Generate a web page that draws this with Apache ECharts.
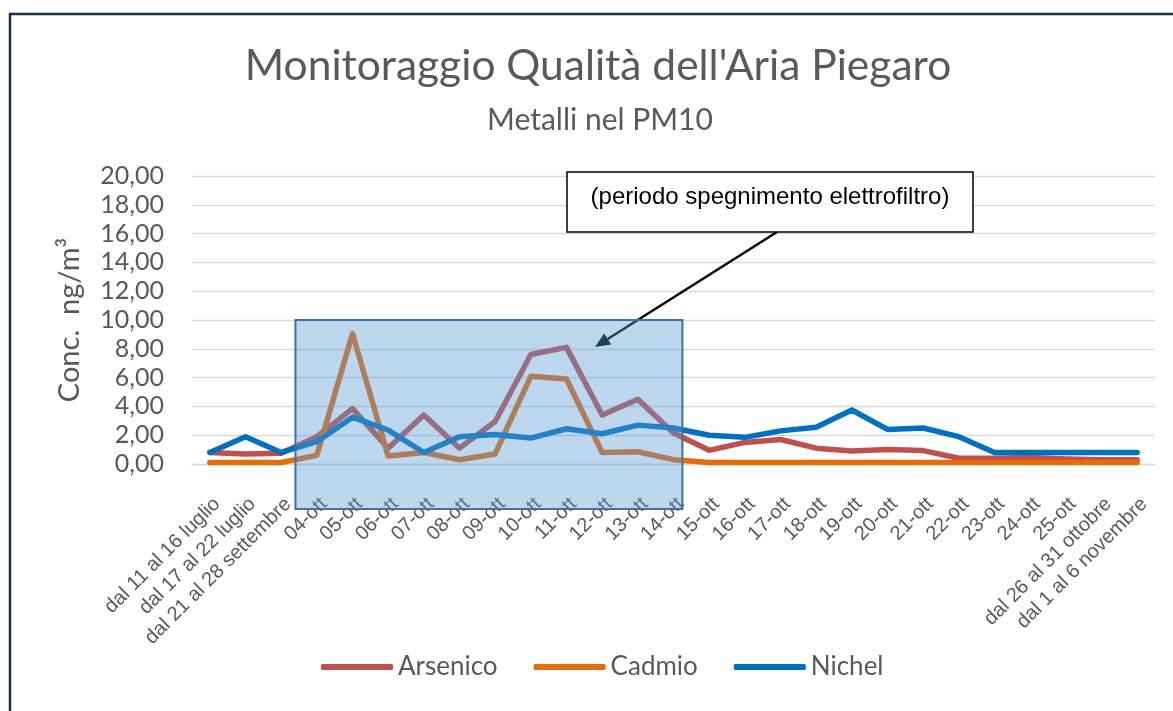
<!DOCTYPE html>
<html>
<head>
<meta charset="utf-8">
<script src="https://cdn.jsdelivr.net/npm/echarts@6.0.0/dist/echarts.min.js"></script>
<style>
  html, body { margin: 0; padding: 0; background: #fff; }
  #chart { width: 1173px; height: 711px; }
</style>
</head>
<body>
<div id="chart"></div>
<script>
// Monitoraggio Piegaro - metalli nel PM10 (ng/m3)
const categories = [
  'dal 11 al 16 luglio', 'dal 17 al 22 luglio', 'dal 21 al 28 settembre',
  '04-ott', '05-ott', '06-ott', '07-ott', '08-ott', '09-ott', '10-ott', '11-ott',
  '12-ott', '13-ott', '14-ott', '15-ott', '16-ott', '17-ott', '18-ott', '19-ott',
  '20-ott', '21-ott', '22-ott', '23-ott', '24-ott', '25-ott',
  'dal 26 al 31 ottobre', 'dal 1 al 6 novembre'
]
const arsenico = [0.8, 0.7, 0.75, 1.9, 3.85, 1.1, 3.4, 1.1, 2.95, 7.6, 8.1, 3.4, 4.5, 2.15,
  0.95, 1.5, 1.7, 1.1, 0.9, 1.0, 0.93, 0.4, 0.4, 0.45, 0.35, 0.3, 0.3]
const cadmio = [0.1, 0.1, 0.1, 0.6, 9.05, 0.55, 0.8, 0.3, 0.7, 6.1, 5.9, 0.8, 0.85, 0.3,
  0.1, 0.1, 0.1, 0.1, 0.1, 0.1, 0.1, 0.1, 0.1, 0.1, 0.1, 0.1, 0.1]
const nichel = [0.8, 1.9, 0.8, 1.55, 3.25, 2.35, 0.8, 1.9, 2.05, 1.8, 2.45, 2.1, 2.7, 2.5,
  2.0, 1.85, 2.3, 2.55, 3.75, 2.4, 2.5, 1.9, 0.8, 0.8, 0.8, 0.8, 0.8]
const yTicks = { min: 0, max: 20, interval: 2 }

const GREY = '#595959'
const lineSeries = (name, data, color) => ({
  name,
  type: 'line',
  data,
  symbol: 'none',
  lineStyle: { color, width: 5.5, cap: 'round', join: 'round' },
  itemStyle: { color },
})

const chart = echarts.init(document.getElementById('chart'), null, { renderer: 'canvas' })

chart.setOption({
  animation: false,
  backgroundColor: '#fff',
  title: [
    {
      text: "Monitoraggio Qualità dell'Aria Piegaro",
      left: 593, top: 40, textAlign: 'center',
      textStyle: { fontFamily: 'Lato', fontSize: 42.5, fontWeight: 'normal', color: GREY },
    },
    {
      text: 'Metalli nel PM10',
      left: 595, top: 100, textAlign: 'center',
      textStyle: { fontFamily: 'Lato', fontSize: 30, fontWeight: 'normal', color: GREY },
    },
  ],
  legend: {
    left: 316, top: 649,
    itemWidth: 72, itemHeight: 6, itemGap: 36,
    icon: 'roundRect',
    textStyle: { fontFamily: 'Lato', fontSize: 26, color: GREY },
    data: ['Arsenico', 'Cadmio', 'Nichel'],
  },
  grid: { left: 192, right: 18, top: 176, bottom: 247, containLabel: false },
  xAxis: {
    type: 'category',
    data: categories,
    boundaryGap: true,
    axisTick: { show: false },
    axisLine: { lineStyle: { color: '#D9D9D9', width: 1.3 } },
    axisLabel: {
      interval: 0, rotate: 45, margin: 30, verticalAlign: 'top',
      fontFamily: 'Liberation Sans', fontSize: 20, color: GREY,
    },
  },
  yAxis: {
    type: 'value',
    min: yTicks.min, max: yTicks.max, interval: yTicks.interval,
    name: 'Conc.  ng/m³',
    nameLocation: 'middle', nameRotate: 90, nameGap: 108,
    nameTextStyle: { fontFamily: 'Lato', fontSize: 29, color: GREY },
    axisLine: { show: false },
    axisTick: { show: false },
    axisLabel: {
      margin: 28, fontFamily: 'Lato', fontSize: 25, color: GREY,
      formatter: (v) => v.toFixed(2).replace('.', ','),
    },
    splitLine: { lineStyle: { color: '#D9D9D9', width: 1.3 } },
  },
  series: [
    lineSeries('Arsenico', arsenico, '#C0504D'),
    lineSeries('Cadmio', cadmio, '#E46C0A'),
    lineSeries('Nichel', nichel, '#0070C0'),
  ],
})

// annotation: shaded period (04-ott .. 14-ott) + callout box with arrow
const px = (i, v) => chart.convertToPixel({ seriesIndex: 0 }, [i, v])
const p2 = px(2, 0), p3 = px(3, 0), p13 = px(13, 0), p14 = px(14, 0)
const x0 = p2[0] + (p3[0] - p2[0]) * 0.4
const x1 = p13[0] + (p14[0] - p13[0]) * 0.25
const yTop = px(3, 10)[1]
const yBot = p3[1] + 45

const box = { x: 567, y: 172, w: 406, h: 60 }
const from = [777, box.y + box.h]
const tip = [595, 347]
const dx = tip[0] - from[0], dy = tip[1] - from[1]
const len = Math.hypot(dx, dy)
const ux = dx / len, uy = dy / len
const hl = 15, hw = 6.5
const base = [tip[0] - ux * hl, tip[1] - uy * hl]

chart.setOption({
  graphic: [
    {
      type: 'rect', z: 200, silent: true,
      shape: { x: 10, y: 14, width: 1300, height: 900 },
      style: { fill: 'none', stroke: '#1B2E4B', lineWidth: 2.5 },
    },
    {
      type: 'line', z: 50, silent: true,
      shape: { x1: from[0], y1: from[1], x2: base[0], y2: base[1] },
      style: { stroke: '#000', lineWidth: 2.5 },
    },
    {
      type: 'polygon', z: 50, silent: true,
      shape: { points: [tip, [base[0] - uy * hw, base[1] + ux * hw], [base[0] + uy * hw, base[1] - ux * hw]] },
      style: { fill: '#000' },
    },
    {
      type: 'rect', z: 100, silent: true,
      shape: { x: x0, y: yTop, width: x1 - x0, height: yBot - yTop },
      style: { fill: 'rgba(91,155,213,0.4)', stroke: '#41719C', lineWidth: 2 },
    },
    {
      type: 'rect', z: 110, silent: true,
      shape: { x: box.x, y: box.y, width: box.w, height: box.h },
      style: { fill: '#fff', stroke: '#000', lineWidth: 1.5 },
    },
    {
      type: 'text', z: 111, silent: true,
      x: box.x + box.w / 2, y: box.y + 25,
      style: {
        text: '(periodo spegnimento elettrofiltro)',
        fontFamily: 'Liberation Sans', fontSize: 24, fill: '#000',
        align: 'center', verticalAlign: 'middle',
      },
    },
  ],
})
</script>
</body>
</html>
